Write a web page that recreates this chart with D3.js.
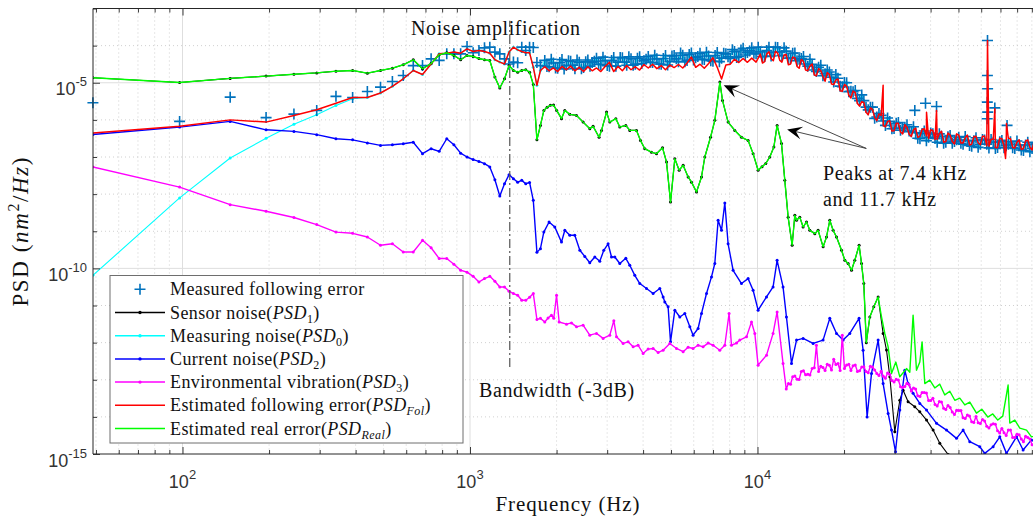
<!DOCTYPE html>
<html>
<head>
<meta charset="utf-8">
<script src="https://cdn.jsdelivr.net/npm/d3@7"></script>
<style>
  html, body { margin: 0; padding: 0; background: #fff; }
  svg { display: block; }
</style>
</head>
<body>
<svg id="chart" width="1033" height="519"></svg>
<script>
// ---------------------------------------------------------------
// PSD data (frequency in Hz, PSD in nm^2/Hz)
// ---------------------------------------------------------------

// FFT bins of the low band
const binFreq = [48.8, 97.7, 146.5, 195.3, 244.1, 293.0, 341.8, 390.6, 439.5, 488.3,
  537.1, 585.9, 634.8, 683.6, 732.4, 781.3, 830.1, 878.9, 927.7, 976.6,
  1025.4, 1074.2, 1123.0, 1171.9, 1220.7, 1269.5, 1318.4, 1367.2, 1416.0, 1464.8,
  1513.7, 1562.5, 1611.3, 1660.2, 1709.0, 1757.8];

// frequencies of the dense upper band
const bandFreq = [1820, 1884, 1950, 2018, 2089, 2163, 2239, 2317, 2399, 2483,
  2570, 2661, 2754, 2851, 2951, 3055, 3162, 3273, 3388, 3508,
  3631, 3758, 3890, 4027, 4169, 4315, 4467, 4624, 4786, 4955,
  5129, 5309, 5495, 5689, 5888, 6095, 6310, 6531, 6761, 6998,
  7244, 7499, 7762, 8035, 8318, 8610, 8913, 9226, 9550, 9886,
  10230, 10590, 10960, 11350, 11750, 12160, 12590, 13030, 13490, 13960,
  14450, 14960, 15490, 16030, 16600, 17180, 17780, 18410, 19050, 19720,
  20420, 21130, 21880, 22650, 23440, 24270, 25120, 26000, 26920, 27860,
  28840, 29850, 30900, 31990, 33110, 34280, 35480, 36730, 38020, 39360,
  40740, 42170, 43650, 45190, 46770, 48420, 50120, 51880, 53700, 55590,
  57540, 59570, 61660, 63830, 66070, 68390, 70790, 73280, 75860, 78520,
  81280, 84140, 87100, 90160, 93330, 96610, 100000];
// intermediate frequencies of the upper band
const bandMidFreq = [1852, 1917, 1984, 2053, 2125, 2201, 2278, 2357, 2441, 2526,
  2615, 2707, 2802, 2901, 3002, 3108, 3217, 3330, 3447, 3569,
  3694, 3823, 3958, 4097, 4242, 4390, 4545, 4704, 4869, 5041,
  5218, 5401, 5591, 5788, 5990, 6201, 6420, 6645, 6879, 7120,
  7370, 7630, 7897, 8175, 8463, 8760, 9068, 9387, 9716, 10058,
  10408, 10774, 11151, 11548, 11954, 12372, 12809, 13257, 13725, 14203,
  14701, 15220, 15760, 16309, 16889, 17479, 18089, 18730, 19381, 20063,
  20775, 21498, 22261, 23044, 23848, 24692, 25557, 26452, 27388, 28345,
  29342, 30369, 31438, 32547, 33686, 34876, 36097, 37369, 38682, 40045,
  41449, 42904, 44410, 45976, 47584, 49263, 50992, 52783, 54634, 56557,
  58541, 60607, 62733, 64941, 67220, 69580, 72022, 74555, 77180, 79886,
  82694, 85604, 88616, 91729, 94954, 98291];

// Measured following error (markers)
const measuredLow = [2.9e-6, 9.1e-7, 4.1e-6, 1.15e-6, 1.43e-6, 1.8e-6, 4.3e-6, 4.0e-6, 5.8e-6, 7.6e-6,
  1.08e-5, 1.57e-5, 2.9e-5, 2.9e-5, 4.4e-5, 4.0e-5, 6.0e-5, 6.0e-5, 6.0e-5, 9.5e-5,
  6.4e-5, 7.4e-5, 8.7e-5, 9.1e-5, 6.7e-5, 6.0e-5, 4.4e-5, 3.2e-5, 3.6e-5, 3.45e-5,
  9.1e-5, 7.4e-5, 9.1e-5, 8.9e-5, 3.5e-5, 2.9e-5];
const measuredBand = [4.0e-5, 2.7e-5, 3.4e-5, 2.45e-5, 4.2e-5, 2.9e-5, 3.8e-5, 2.4e-5, 3.55e-5, 2.57e-5,
  4.1e-5, 3.5e-5, 4.6e-5, 3.1e-5, 3.9e-5, 2.8e-5, 4.8e-5, 3.55e-5, 4.7e-5, 2.95e-5,
  4.4e-5, 3.16e-5, 5.0e-5, 3.9e-5, 5.1e-5, 3.5e-5, 4.4e-5, 3.16e-5, 5.4e-5, 3.7e-5,
  5.4e-5, 3.7e-5, 5.5e-5, 4.0e-5, 6.3e-5, 4.7e-5, 6.2e-5, 4.2e-5, 5.25e-5, 3.8e-5,
  6.5e-5, 4.6e-5, 6.0e-5, 4.5e-5, 6.9e-5, 5.1e-5, 8.5e-5, 6.5e-5, 8.7e-5, 6.0e-5,
  6.8e-5, 5.1e-5, 9.1e-5, 6.6e-5, 8.9e-5, 5.4e-5, 7.1e-5, 4.6e-5, 6.3e-5, 4.3e-5,
  5.1e-5, 2.8e-5, 3.16e-5, 2.0e-5, 2.95e-5, 1.74e-5, 1.95e-5, 1.05e-5, 1.32e-5, 7.8e-6,
  1.0e-5, 5.9e-6, 6.2e-6, 3.3e-6, 3.3e-6, 1.86e-6, 2.2e-6, 1.2e-6, 1.32e-6, 7.1e-7,
  9.1e-7, 5.9e-7, 8.5e-7, 5.9e-7, 7.4e-7, 4.8e-7, 4.5e-7, 3.1e-7, 5.0e-7, 3.4e-7,
  4.2e-7, 2.5e-7, 3.6e-7, 2.5e-7, 3.8e-7, 2.6e-7, 3.4e-7, 2.2e-7, 2.8e-7, 1.96e-7,
  3.3e-7, 2.2e-7, 2.85e-7, 1.76e-7, 2.5e-7, 1.8e-7, 2.8e-7, 2.0e-7, 2.56e-7, 1.7e-7,
  2.1e-7, 1.5e-7, 2.5e-7, 1.7e-7, 2.2e-7, 1.33e-7, 1.9e-7];
const measuredBandMid = [2.75e-5, 4.3e-5, 2.5e-5, 3.5e-5, 2.34e-5, 3.9e-5, 2.95e-5, 4.1e-5, 2.4e-5, 3.7e-5,
  2.8e-5, 3.8e-5, 3.16e-5, 4.9e-5, 2.9e-5, 4.0e-5, 2.8e-5, 4.8e-5, 3.6e-5, 5.0e-5,
  2.95e-5, 4.6e-5, 3.3e-5, 4.3e-5, 3.55e-5, 5.5e-5, 3.2e-5, 4.5e-5, 3.0e-5, 5.25e-5,
  4.4e-5, 6.3e-5, 3.7e-5, 5.75e-5, 4.1e-5, 5.1e-5, 4.3e-5, 6.6e-5, 3.9e-5, 5.4e-5,
  3.7e-5, 6.2e-5, 5.0e-5, 7.8e-5, 4.8e-5, 7.6e-5, 5.6e-5, 7.2e-5, 6.2e-5, 9.1e-5,
  5.1e-5, 7.4e-5, 5.25e-5, 9.1e-5, 6.8e-5, 8.7e-5, 4.6e-5, 6.2e-5, 3.9e-5, 4.5e-5,
  3.2e-5, 4.3e-5, 2.2e-5, 2.6e-5, 1.55e-5, 2.2e-5, 1.41e-5, 1.66e-5, 8.1e-6, 1.02e-5,
  5.75e-6, 5.75e-6, 3.8e-6, 4.7e-6, 2.2e-6, 2.2e-6, 1.1e-6, 1.48e-6, 9.3e-7, 1.12e-6,
  5.75e-7, 8.1e-7, 5.25e-7, 6.3e-7, 5.0e-7, 6.5e-7, 3.2e-7, 4.3e-7, 2.75e-7, 4.4e-7,
  3.16e-7, 4.2e-7, 2.34e-7, 3.5e-7, 2.34e-7, 2.9e-7, 2.34e-7, 3.55e-7, 2.04e-7, 2.75e-7,
  1.82e-7, 2.95e-7, 2.2e-7, 2.95e-7, 1.7e-7, 2.57e-7, 1.78e-7, 2.2e-7, 1.78e-7, 2.7e-7,
  1.55e-7, 2.1e-7, 1.38e-7, 2.24e-7, 1.66e-7, 2.24e-7];
const measuredSpikeFreq = [35250, 38400, 41950, 63100, 63050, 63150, 63000, 63200, 62950, 66900, 73800];
const measuredSpikePsd = [1.8e-6, 2.8e-6, 2.3e-6, 1.37e-4, 1.57e-5, 6.9e-6, 3.0e-6, 1.62e-6, 1.07e-6, 2.1e-6, 7.1e-7];

// Sensor noise (PSD1): shares the estimated real error up to 26.3 kHz
const sensorTailFreq = [27350, 28100, 28860, 30030, 31260, 32100, 33410, 35250, 36690, 38720, 40810, 43060, 46030, 48570];
const sensorTailPsd = [1.77e-12, 6.3e-13, 1.2e-13, 4.0e-15, 2.8e-14, 5.2e-14, 2.55e-14, 1.87e-14, 1.37e-14, 8.2e-15, 4.4e-15, 1.94e-15, 9.7e-16, 3.7e-16];
const sensorSplitFreq = 26275;

// Measuring noise (PSD0); above 1.8 kHz it coincides with the measured error
const measuringLow = [6.5e-11, 7.9e-9, 9.4e-8, 3.2e-7, 7.6e-7, 1.38e-6, 2.45e-6, 3.7e-6, 4.0e-6, 5.3e-6,
  8.0e-6, 1.28e-5, 2.14e-5, 1.67e-5, 3.2e-5, 6.0e-5, 6.25e-5, 6.7e-5, 6.25e-5, 8.2e-5,
  6.95e-5, 7.4e-5, 6.95e-5, 6.25e-5, 4.16e-5, 3.6e-5, 3.2e-5, 6.7e-5, 9.1e-5, 7.7e-5,
  6.95e-5, 6.4e-5, 6.4e-5, 2.63e-5, 8.5e-6, 2.14e-5];

// Current noise (PSD2)
const currentLow = [4.05e-7, 6.4e-7, 9.1e-7, 5.4e-7, 4.9e-7, 4.0e-7, 3.1e-7, 2.9e-7, 2.4e-7, 2.05e-7,
  2.14e-7, 2.28e-7, 2.5e-7, 1.23e-7, 1.67e-7, 1.42e-7, 3.1e-7, 2.14e-7, 1.27e-7, 1.0e-7,
  8.5e-8, 7.6e-8, 6.6e-8, 5.4e-8, 2.45e-8, 8.9e-9, 1.9e-8, 3.35e-8, 2.6e-8, 2.1e-8,
  2.35e-8, 1.9e-8, 2.07e-8, 6.8e-9, 2.7e-10, 3.4e-10];
const currentMidFreq = [1806, 1884, 1972, 2081, 2137, 2224, 2315, 2410, 2508, 2610,
  2717, 2828, 2920, 3022, 3106, 3189, 3319, 3483, 3596, 3743,
  3896, 4111, 4334, 4573, 4696, 4760, 4887, 4983, 5157, 5368,
  5588, 5817, 5970, 6214, 6386, 6647, 6918, 7104, 7295, 7496,
  7697, 7902, 8225, 8796, 9275, 9654, 10050, 10750, 11330, 11700,
  12270, 12610, 13130, 13670, 14410, 15610, 16910, 17840, 18830, 19850,
  20940, 22560, 23300, 24060, 24920, 26280, 27350, 28470, 29250, 30200,
  31260, 32530, 33410, 34770, 36690, 38720, 41950, 45440, 49230, 51900,
  54760, 59320, 61740, 65990, 69620, 73450, 79600, 83910, 89750, 95920];
const currentMidPsd = [9.5e-10, 1.78e-9, 1.3e-9, 5.1e-10, 1.06e-9, 7.8e-10, 7.8e-10, 3.07e-10, 2.1e-10, 1.42e-10,
  2.03e-10, 1.55e-10, 3.07e-10, 4.6e-10, 2.03e-10, 2.03e-10, 1.35e-10, 1.87e-10, 1.21e-10, 6.5e-11,
  3.9e-11, 2.86e-11, 2.1e-11, 2.86e-11, 1.7e-11, 1.25e-11, 9.2e-12, 1.05e-12, 7.5e-12, 4.9e-12,
  6.1e-12, 2.66e-12, 1.59e-12, 2.4e-12, 6.1e-12, 2.1e-11, 5.9e-11, 1.35e-10, 1.98e-9, 1.06e-9,
  5.8e-9, 4.6e-10, 8.9e-11, 3.9e-11, 5.3e-11, 2.58e-11, 7.5e-12, 1.7e-11, 3.16e-11, 1.65e-10,
  3.16e-11, 4.9e-12, 2.75e-13, 1.17e-12, 1.3e-12, 9.5e-13, 1.17e-12, 4.5e-12, 1.77e-12, 1.17e-12,
  1.77e-12, 4.5e-12, 6.25e-13, 1.0e-14, 1.48e-13, 1.17e-12, 7.9e-14, 1.24e-14, 4.4e-15, 1.15e-15,
  1.52e-14, 1.8e-13, 7.9e-14, 4.3e-14, 2.3e-14, 1.52e-14, 6.7e-15, 4.4e-15, 2.64e-15, 4.4e-15,
  2.14e-15, 1.57e-15, 1.04e-15, 1.57e-15, 2.9e-15, 1.04e-15, 2.9e-15, 1.28e-15, 2.4e-15, 1.75e-15];

// Environmental vibration (PSD3)
const envLow = [5.4e-8, 1.55e-8, 5.2e-9, 3.45e-9, 2.34e-9, 1.51e-9, 9.5e-10, 8.8e-10, 7.0e-10, 4.2e-10,
  4.6e-10, 2.76e-10, 2.76e-10, 5.7e-10, 3.6e-10, 1.84e-10, 1.84e-10, 1.29e-10, 8.9e-11, 7.9e-11,
  6.1e-11, 4.3e-11, 5.3e-11, 6.1e-11, 4.5e-11, 3.16e-11, 3.16e-11, 2.43e-11, 2.1e-11, 1.89e-11,
  1.39e-11, 1.39e-11, 1.67e-11, 2.1e-11, 4.2e-12, 4.5e-12];
const envMidFreq = [1820, 1869, 1920, 1956, 2000, 2042, 2166, 2254, 2347, 2474,
  2610, 2754, 2904, 3064, 3164, 3233, 3409, 3548, 3693, 3843,
  4001, 4164, 4334, 4511, 4696, 4955, 5228, 5512, 5737, 5970,
  6214, 6468, 6732, 7008, 7394, 7697, 7964, 8120, 8453, 8677,
  9157, 9530, 9786, 10050, 10750, 11330, 11700, 12270];
const envMidPsd = [3.6e-12, 4.6e-12, 5.5e-12, 4.5e-12, 1.89e-11, 3.6e-12, 3.15e-12, 3.4e-12, 2.66e-12, 2.96e-12,
  1.59e-12, 1.77e-12, 1.3e-12, 1.59e-12, 3.9e-12, 1.43e-12, 9.5e-13, 1.05e-12, 7.7e-13, 8.5e-13,
  5.1e-13, 6.7e-13, 6.95e-13, 5.4e-13, 6.25e-13, 9.5e-13, 6.95e-13, 5.7e-13, 7.5e-13, 6.95e-13,
  8.5e-13, 7.7e-13, 9.7e-13, 8.5e-13, 6.25e-13, 8.5e-13, 6.1e-12, 8.5e-13, 9.7e-13, 1.17e-12,
  1.43e-12, 3.6e-12, 1.77e-12, 2.47e-13, 4.6e-13, 1.77e-12, 6.7e-12, 2.75e-13];
// values on bandFreq / bandMidFreq from 12.59 kHz upward
const envBandStart = 56;
const envBandPsd = [5.6e-14, 7.6e-14, 1.26e-13, 1.02e-13, 1.74e-13, 1.41e-13, 2.0e-13, 8.5e-13, 2.3e-13, 1.78e-13,
  2.45e-13, 3.55e-13, 2.75e-13, 1.58e-12, 2.5e-13, 1.78e-13, 2.5e-13, 1.74e-13, 2.24e-13, 1.55e-13,
  2.2e-13, 1.48e-13, 1.7e-13, 1.1e-13, 1.41e-13, 8.7e-14, 9.8e-14, 6.2e-14, 8.1e-14, 5.0e-14,
  5.6e-14, 3.55e-14, 4.5e-14, 2.75e-14, 3.16e-14, 1.95e-14, 2.5e-14, 1.58e-14, 1.78e-14, 1.15e-14,
  1.48e-14, 9.5e-15, 1.12e-14, 7.4e-15, 1.02e-14, 6.6e-15, 7.8e-15, 5.0e-15, 6.5e-15, 4.2e-15,
  4.9e-15, 3.16e-15, 4.4e-15, 2.8e-15, 3.3e-15, 2.14e-15, 2.8e-15, 1.78e-15, 2.14e-15, 1.41e-15,
  1.95e-15];
const envBandMid = [7.9e-14, 1.2e-13, 1.03e-13, 1.68e-13, 1.36e-13, 1.35e-13, 2.1e-13, 1.66e-13, 2.14e-13, 2.63e-13,
  1.82e-13, 2.57e-13, 1.78e-13, 2.0e-13, 2.6e-13, 2.37e-13, 1.68e-13, 2.2e-13, 1.66e-13, 2.3e-13,
  1.84e-13, 1.3e-13, 1.24e-13, 1.53e-13, 9.5e-14, 1.03e-13, 6.5e-14, 6.6e-14, 7.3e-14, 6.0e-14,
  3.7e-14, 4.5e-14, 4.4e-14, 2.75e-14, 2.16e-14, 2.6e-14, 1.7e-14, 2.04e-14, 1.36e-14, 1.5e-14,
  1.48e-14, 9.0e-15, 1.05e-14, 7.1e-15, 7.0e-15, 8.5e-15, 5.6e-15, 6.1e-15, 6.3e-15, 3.7e-15,
  3.76e-15, 4.4e-15, 2.8e-15, 3.4e-15, 2.54e-15, 3.0e-15, 2.54e-15, 1.7e-15, 2.0e-15, 1.48e-15];

// Estimated following error (PSD_Fol)
const followingLow = [4.4e-7, 6.7e-7, 1.0e-6, 8.7e-7, 1.32e-6, 1.88e-6, 2.8e-6, 4.0e-6, 4.0e-6, 5.3e-6,
  8.0e-6, 1.28e-5, 2.14e-5, 1.67e-5, 3.2e-5, 6.0e-5, 6.25e-5, 6.7e-5, 6.25e-5, 8.2e-5,
  6.95e-5, 7.4e-5, 6.95e-5, 6.25e-5, 4.16e-5, 3.6e-5, 3.2e-5, 6.7e-5, 9.1e-5, 7.7e-5,
  6.95e-5, 6.4e-5, 6.4e-5, 2.63e-5, 8.5e-6, 2.14e-5];
const followingBand = [2.7e-5, 2.1e-5, 2.5e-5, 2.0e-5, 2.75e-5, 2.24e-5, 2.8e-5, 2.1e-5, 2.6e-5, 2.0e-5,
  2.7e-5, 2.1e-5, 2.5e-5, 2.0e-5, 2.75e-5, 3.55e-5, 2.0e-5, 2.75e-5, 2.1e-5, 2.9e-5,
  2.24e-5, 2.7e-5, 2.2e-5, 3.1e-5, 2.5e-5, 3.16e-5, 2.4e-5, 2.9e-5, 2.24e-5, 3.0e-5,
  2.57e-5, 3.1e-5, 2.5e-5, 3.4e-5, 4.9e-5, 2.6e-5, 3.16e-5, 2.45e-5, 3.3e-5, 4.7e-5,
  2.6e-5, 1.26e-5, 3.0e-5, 3.16e-5, 4.3e-5, 3.5e-5, 4.5e-5, 3.55e-5, 4.6e-5, 3.6e-5,
  5.9e-5, 3.7e-5, 6.8e-5, 3.9e-5, 6.3e-5, 3.6e-5, 5.75e-5, 3.2e-5, 4.7e-5, 2.45e-5,
  3.8e-5, 2.1e-5, 3.2e-5, 1.55e-5, 2.14e-5, 1.1e-5, 1.66e-5, 8.9e-6, 1.26e-5, 5.9e-6,
  8.1e-6, 3.9e-6, 5.4e-6, 2.35e-6, 2.95e-6, 1.38e-6, 1.91e-6, 9.5e-7, 1.32e-6, 6.5e-7,
  9.5e-7, 5.1e-7, 8.1e-7, 4.2e-7, 6.3e-7, 3.6e-7, 6.0e-7, 3.6e-7, 5.75e-7, 3.16e-7,
  5.1e-7, 2.95e-7, 4.9e-7, 2.6e-7, 3.9e-7, 2.24e-7, 3.9e-7, 2.4e-7, 3.9e-7, 2.2e-7,
  3.6e-7, 2.14e-7, 3.6e-7, 1.95e-7, 3.0e-7, 1.78e-7, 3.1e-7, 1.9e-7, 3.1e-7, 1.74e-7,
  2.9e-7, 1.7e-7, 2.9e-7, 1.55e-7, 2.4e-7, 1.41e-7, 2.45e-7];
// values on bandMidFreq from 10.4 kHz upward
const followingMidStart = 50;
const followingBandMid = [3.4e-5, 6.0e-5, 4.5e-5, 7.0e-5, 4.0e-5, 5.6e-5, 3.05e-5, 4.9e-5, 2.75e-5, 4.2e-5,
  2.2e-5, 2.8e-5, 1.62e-5, 2.4e-5, 1.46e-5, 1.88e-5, 9.2e-6, 1.19e-5, 6.1e-6, 9.0e-6,
  4.6e-6, 6.0e-6, 2.75e-6, 3.1e-6, 1.6e-6, 2.1e-6, 1.17e-6, 1.45e-6, 7.0e-7, 9.1e-7,
  5.0e-7, 8.1e-7, 4.7e-7, 7.4e-7, 4.1e-7, 5.4e-7, 3.4e-7, 5.5e-7, 3.7e-7, 5.4e-7,
  2.95e-7, 4.3e-7, 2.5e-7, 4.4e-7, 2.6e-7, 4.2e-7, 2.37e-7, 3.3e-7, 2.1e-7, 3.5e-7,
  2.43e-7, 3.6e-7, 2.0e-7, 3.0e-7, 1.8e-7, 3.2e-7, 1.97e-7, 3.2e-7, 1.8e-7, 2.5e-7,
  1.6e-7, 2.66e-7, 1.84e-7, 2.7e-7, 1.53e-7, 2.26e-7];
const followingSpikeFreq = [27350, 38720, 41950, 63100, 66900, 72900, 73450];
const followingSpikePsd = [8.5e-6, 1.6e-6, 1.8e-6, 1.37e-4, 2.0e-6, 9.1e-8, 8.0e-7];

// Estimated real error (PSD_Real)
const realLow = [1.36e-5, 1.02e-5, 1.31e-5, 1.51e-5, 1.70e-5, 1.84e-5, 2.05e-5, 2.14e-5, 1.81e-5, 2.14e-5,
  2.47e-5, 3.05e-5, 4.16e-5, 2.38e-5, 3.3e-5, 5.66e-5, 6.41e-5, 5.42e-5, 4.16e-5, 5.42e-5,
  5.10e-5, 4.5e-5, 4.16e-5, 3.98e-5, 1.42e-5, 7.2e-6, 1.28e-5, 2.9e-5, 2.14e-5, 1.93e-5,
  2.14e-5, 2.24e-5, 1.93e-5, 9.0e-6, 2.9e-7, 7.1e-7];
const realMidFreq = [1807, 1855, 1904, 1953, 2002, 2081, 2137, 2224, 2347, 2474,
  2610, 2680, 2812, 2867, 2985, 3064, 3215, 3319, 3483, 3596,
  3794, 3917, 4055, 4278, 4453, 4673, 4826, 4983, 5157, 5339,
  5512, 5737, 5895, 6135, 6386, 6557, 6864, 7105, 7400, 7555,
  7902, 8337, 8796, 9276, 9654, 10048, 10370, 10688, 11035, 11400,
  11700, 12121, 12445, 12780, 13196, 13483, 13670, 14031, 14407, 14805,
  15202, 15824, 16249, 16913, 17378, 17844, 18323, 18829, 19601, 20128,
  20665, 21232, 21798, 22565, 23002, 23428, 23900, 24587, 25383, 26275,
  26999, 27723, 28467, 29253, 30274, 31261, 32984, 33862, 34768, 35727,
  36686, 37367, 38185, 39747, 41370, 43060, 44818, 46650, 48560, 50540,
  52610, 54760, 57770, 60290, 63240, 65820, 68510, 71310, 74410, 75430,
  78520, 81730, 86250, 89750, 95920];
const realMidPsd = [1.8e-6, 2.2e-6, 2.46e-6, 2.5e-6, 1.8e-6, 1.08e-6, 1.8e-6, 1.41e-6, 1.32e-6, 8.7e-7,
  5.8e-7, 6.7e-7, 3.4e-7, 5.2e-7, 1.62e-6, 8.7e-7, 1.08e-6, 6.4e-7, 7.1e-7, 5.2e-7,
  5.2e-7, 2.8e-7, 1.67e-7, 1.35e-7, 1.23e-7, 1.78e-7, 7.3e-8, 6.1e-9, 9.0e-8, 4.4e-8,
  6.0e-8, 2.9e-8, 2.1e-8, 1.14e-8, 2.9e-8, 1.0e-7, 3.4e-7, 9.7e-7, 1.04e-5, 3.35e-6,
  8.7e-7, 5.2e-7, 3.4e-7, 2.8e-7, 1.23e-7, 4.4e-8, 5.5e-8, 6.7e-8, 1.0e-7, 1.85e-7,
  7.1e-7, 2.3e-7, 2.35e-8, 2.4e-9, 4.2e-10, 2.7e-9, 1.98e-9, 2.4e-9, 1.3e-9, 1.78e-9,
  1.06e-9, 8.6e-10, 1.06e-9, 3.8e-10, 7.0e-10, 1.98e-9, 1.06e-9, 7.0e-10, 3.07e-10, 1.65e-10,
  1.35e-10, 8.9e-11, 1.65e-10, 4.2e-10, 1.35e-10, 3.9e-11, 1.0e-12, 4.9e-12, 9.2e-12, 1.7e-11,
  4.9e-12, 1.77e-12, 7.7e-13, 1.48e-13, 3.0e-13, 1.2e-13, 2.0e-13, 1.6e-13, 5.5e-12, 1.8e-13,
  3.0e-13, 1.05e-12, 7.9e-14, 9.8e-14, 6.0e-14, 7.6e-14, 3.9e-14, 4.9e-14, 2.8e-14, 3.2e-14,
  2.1e-14, 2.5e-14, 1.26e-14, 1.6e-14, 9.9e-15, 1.2e-14, 8.2e-15, 1.05e-14, 7.2e-14, 6.8e-15,
  8.2e-15, 5.0e-15, 4.4e-15, 2.9e-15, 3.4e-15];

// Bandwidth (-3 dB) marker
const bandwidthFreq = 1375;
const bandwidthSpan = [2.2e-13, 4.7e-4];

// Axis ticks
const xMajorTicks = [100, 1000, 10000];
const xTickExponents = ['2', '3', '4'];
const yMajorTicks = [1e-15, 1e-10, 1e-5];
const yTickExponents = ['-15', '-10', '-5'];
const yDecadeExponents = [-15, -14, -13, -12, -11, -10, -9, -8, -7, -6, -5, -4, -3];

// Legend entries
const legendLabels = [
  { main: 'Measured following error' },
  { main: 'Sensor noise(', psd: '1', sub: 'plain' },
  { main: 'Measuring noise(', psd: '0', sub: 'plain' },
  { main: 'Current noise(', psd: '2', sub: 'plain' },
  { main: 'Environmental vibration(', psd: '3', sub: 'plain' },
  { main: 'Estimated following error(', psd: 'Fol', sub: 'ital' },
  { main: 'Estimated real error(', psd: 'Real', sub: 'ital' }
];

// ---------------------------------------------------------------
// Layout and scales
// ---------------------------------------------------------------
const plot = { left: 93, right: 1045, top: 8.5, bottom: 454 };
const x = d3.scaleLog().domain([48.83, 1e5]).range([plot.left, plot.right]);
const y = d3.scaleLog().domain([1e-15, 1e-3]).range([plot.bottom, plot.top]);

const SERIF = '"Liberation Serif", "Times New Roman", serif';
const SANS = '"Liberation Sans", Arial, sans-serif';
const AXIS_COLOR = '#262626';

const colors = {
  measured: '#0072BD',
  sensor: '#000000',
  measuring: '#00FFFF',
  current: '#0000FF',
  env: '#FF00FF',
  following: '#FF0000',
  real: '#00FF00'
};

const pair = (freqs, vals) => freqs.map((f, i) => ({ f, v: vals[i] }));
const byFreq = (a, b) => a.f - b.f;

const measuredUpper = pair(bandFreq, measuredBand).concat(pair(bandMidFreq, measuredBandMid)).sort(byFreq);
const measured = pair(binFreq, measuredLow)
  .concat(measuredUpper, pair(measuredSpikeFreq, measuredSpikePsd));
const real = pair(binFreq, realLow).concat(pair(realMidFreq, realMidPsd));
const sensor = real.filter(d => d.f <= sensorSplitFreq).concat(pair(sensorTailFreq, sensorTailPsd));
const measuring = pair(binFreq, measuringLow).concat(measuredUpper);
const current = pair(binFreq, currentLow).concat(pair(currentMidFreq, currentMidPsd));
const env = pair(binFreq, envLow).concat(pair(envMidFreq, envMidPsd),
  pair(bandFreq.slice(envBandStart), envBandPsd),
  pair(bandMidFreq.slice(envBandStart), envBandMid)).sort(byFreq);
const following = pair(binFreq, followingLow)
  .concat(pair(bandFreq, followingBand),
          pair(bandMidFreq.slice(followingMidStart), followingBandMid),
          pair(followingSpikeFreq, followingSpikePsd))
  .sort(byFreq);

const svg = d3.select('#chart');
svg.append('rect').attr('width', 1033).attr('height', 519).attr('fill', '#fff');

svg.append('defs').append('clipPath').attr('id', 'plotClip')
  .append('rect')
  .attr('x', plot.left).attr('y', plot.top)
  .attr('width', plot.right - plot.left).attr('height', plot.bottom - plot.top);

// ---------------------------------------------------------------
// Grid
// ---------------------------------------------------------------
const isDecade = v => { const l = Math.log10(v); return Math.abs(l - Math.round(l)) < 1e-9; };
const xMinorTicks = x.ticks().filter(t => !isDecade(t));
const yDecades = yDecadeExponents.map(e => Math.pow(10, e));
const yMinorTicks = yDecades.filter(v => !yMajorTicks.some(m => Math.abs(Math.log10(m) - Math.log10(v)) < 1e-9));

const grid = svg.append('g');
grid.selectAll('.gxm').data(xMinorTicks).join('line')
  .attr('x1', d => x(d)).attr('x2', d => x(d))
  .attr('y1', plot.top).attr('y2', plot.bottom)
  .attr('stroke', '#c4c4c4').attr('stroke-width', 0.8).attr('stroke-dasharray', '1,3');
grid.selectAll('.gym').data(yMinorTicks).join('line')
  .attr('y1', d => y(d)).attr('y2', d => y(d))
  .attr('x1', plot.left).attr('x2', plot.right)
  .attr('stroke', '#c4c4c4').attr('stroke-width', 0.8).attr('stroke-dasharray', '1,3');
grid.selectAll('.gxM').data(xMajorTicks).join('line')
  .attr('x1', d => x(d)).attr('x2', d => x(d))
  .attr('y1', plot.top).attr('y2', plot.bottom)
  .attr('stroke', '#dedede').attr('stroke-width', 1);
grid.selectAll('.gyM').data(yMajorTicks.slice(1)).join('line')
  .attr('y1', d => y(d)).attr('y2', d => y(d))
  .attr('x1', plot.left).attr('x2', plot.right)
  .attr('stroke', '#dedede').attr('stroke-width', 1);

// ---------------------------------------------------------------
// Data
// ---------------------------------------------------------------
const line = d3.line().x(d => x(d.f)).y(d => y(d.v));

function drawLineOn(g, series, color, width, withDots) {
  g.append('path').datum(series)
    .attr('d', line).attr('fill', 'none')
    .attr('stroke', color).attr('stroke-width', width)
    .attr('stroke-linejoin', 'round');
  if (withDots) {
    g.append('g').selectAll('circle').data(series).join('circle')
      .attr('cx', d => x(d.f)).attr('cy', d => y(d.v))
      .attr('r', 1.5).attr('fill', color);
  }
}

// measuring noise sits beneath the measured markers
const lower = svg.append('g').attr('clip-path', 'url(#plotClip)');
drawLineOn(lower, measuring, colors.measuring, 1.1, true);

// measured following error: '+' markers (drawn whole, like plot markers)
svg.append('g').selectAll('path').data(measured).join('path')
  .attr('d', 'M-5.5,0H5.5M0,-5.5V5.5')
  .attr('transform', d => `translate(${x(d.f)},${y(d.v)})`)
  .attr('stroke', colors.measured).attr('stroke-width', 1.6).attr('fill', 'none');

const upper = svg.append('g').attr('clip-path', 'url(#plotClip)');
drawLineOn(upper, sensor, colors.sensor, 1.1, true);
drawLineOn(upper, current, colors.current, 1.4, true);
drawLineOn(upper, env, colors.env, 1.4, true);
drawLineOn(upper, following, colors.following, 1.5, false);
drawLineOn(upper, real, colors.real, 1.4, false);

// bandwidth marker
svg.append('line')
  .attr('x1', x(bandwidthFreq)).attr('x2', x(bandwidthFreq))
  .attr('y1', y(bandwidthSpan[0])).attr('y2', y(bandwidthSpan[1]))
  .attr('stroke', '#555').attr('stroke-width', 1.2)
  .attr('stroke-dasharray', '9,3,2,3');

// ---------------------------------------------------------------
// Axes (ticks point inward)
// ---------------------------------------------------------------
const axes = svg.append('g');
function tickAxis(gen, values, size, transform) {
  const g = axes.append('g').attr('transform', transform)
    .call(gen.tickValues(values).tickSizeInner(-size).tickSizeOuter(0).tickFormat(''));
  g.select('.domain').remove();
  g.selectAll('line').attr('stroke', AXIS_COLOR).attr('stroke-width', 0.9);
}
tickAxis(d3.axisBottom(x), xMajorTicks, 7, `translate(0,${plot.bottom})`);
tickAxis(d3.axisBottom(x), xMinorTicks, 4, `translate(0,${plot.bottom})`);
tickAxis(d3.axisTop(x), xMajorTicks, 7, `translate(0,${plot.top})`);
tickAxis(d3.axisTop(x), xMinorTicks, 4, `translate(0,${plot.top})`);
tickAxis(d3.axisLeft(y), yMajorTicks, 7, `translate(${plot.left},0)`);
tickAxis(d3.axisLeft(y), yMinorTicks, 4, `translate(${plot.left},0)`);

axes.append('line').attr('x1', plot.left).attr('x2', plot.left)
  .attr('y1', plot.top).attr('y2', plot.bottom).attr('stroke', AXIS_COLOR).attr('stroke-width', 1);
axes.append('line').attr('x1', plot.left).attr('x2', plot.right)
  .attr('y1', plot.bottom).attr('y2', plot.bottom).attr('stroke', AXIS_COLOR).attr('stroke-width', 1);
axes.append('line').attr('x1', plot.left).attr('x2', plot.right)
  .attr('y1', plot.top).attr('y2', plot.top).attr('stroke', AXIS_COLOR).attr('stroke-width', 1);

// tick labels with superscript exponents
xMajorTicks.forEach((t, i) => {
  const txt = axes.append('text')
    .attr('x', x(t)).attr('y', plot.bottom + 34)
    .attr('text-anchor', 'middle')
    .attr('font-family', SANS).attr('font-size', 18).attr('fill', '#333');
  txt.append('tspan').text('10');
  txt.append('tspan').attr('dy', -9).attr('font-size', 13).text(xTickExponents[i]);
});
yMajorTicks.forEach((t, i) => {
  const txt = axes.append('text')
    .attr('x', plot.left - 6).attr('y', y(t) + 12.5)
    .attr('text-anchor', 'end')
    .attr('font-family', SANS).attr('font-size', 18).attr('fill', '#333');
  txt.append('tspan').text('10');
  txt.append('tspan').attr('dy', -9).attr('font-size', 13).text(yTickExponents[i]);
});

// axis titles
svg.append('text')
  .attr('x', 568).attr('y', 511).attr('text-anchor', 'middle')
  .attr('font-family', SERIF).attr('font-size', 21).attr('letter-spacing', 0.9)
  .attr('fill', '#111').text('Frequency (Hz)');

const yTitle = svg.append('text')
  .attr('transform', `translate(28,${(plot.top + plot.bottom) / 2}) rotate(-90)`)
  .attr('text-anchor', 'middle')
  .attr('font-family', SERIF).attr('font-size', 23).attr('letter-spacing', 1.6)
  .attr('fill', '#111');
yTitle.append('tspan').text('PSD (');
yTitle.append('tspan').attr('font-style', 'italic').text('nm');
yTitle.append('tspan').attr('dy', -9).attr('font-size', 16).text('2');
yTitle.append('tspan').attr('dy', 9).text('/');
yTitle.append('tspan').attr('font-style', 'italic').text('Hz');
yTitle.append('tspan').text(')');

// ---------------------------------------------------------------
// Annotations
// ---------------------------------------------------------------
const note = (tx, ty, s) => svg.append('text')
  .attr('x', tx).attr('y', ty)
  .attr('font-family', SERIF).attr('font-size', 20).attr('letter-spacing', 0.6)
  .attr('fill', '#111').text(s);
note(411, 35, 'Noise amplification');
note(479, 397, 'Bandwidth (-3dB)');
note(823, 180, 'Peaks at 7.4 kHz');
note(823, 206, 'and 11.7 kHz');

const arrowTail = [23900, 1.7e-7];
const arrowTips = [[7630, 8.5e-6], [12680, 5.5e-7]];
arrowTips.forEach(tip => {
  const x0 = x(arrowTail[0]), y0 = y(arrowTail[1]);
  const x1 = x(tip[0]), y1 = y(tip[1]);
  const len = Math.hypot(x1 - x0, y1 - y0);
  const ux = (x1 - x0) / len, uy = (y1 - y0) / len;
  const px = -uy, py = ux;
  const L = 15, Wd = 6.5, notch = 9;
  svg.append('line')
    .attr('x1', x0).attr('y1', y0)
    .attr('x2', x1 - ux * notch).attr('y2', y1 - uy * notch)
    .attr('stroke', '#333').attr('stroke-width', 0.9);
  const pts = [
    [x1, y1],
    [x1 - ux * L + px * Wd, y1 - uy * L + py * Wd],
    [x1 - ux * notch, y1 - uy * notch],
    [x1 - ux * L - px * Wd, y1 - uy * L - py * Wd]
  ];
  svg.append('path').attr('d', 'M' + pts.map(p => p.join(',')).join('L') + 'Z')
    .attr('fill', '#000');
});

// ---------------------------------------------------------------
// Legend
// ---------------------------------------------------------------
const legend = svg.append('g');
legend.append('rect')
  .attr('x', 110).attr('y', 275.5).attr('width', 353).attr('height', 167.5)
  .attr('fill', '#fff').attr('stroke', '#6e6e6e').attr('stroke-width', 1);

const legendColors = [colors.measured, colors.sensor, colors.measuring, colors.current,
  colors.env, colors.following, colors.real];
legendLabels.forEach((item, i) => {
  const cy = 289.3 + i * 23.2;
  if (i === 0) {
    legend.append('path').attr('d', 'M-5.5,0H5.5M0,-5.5V5.5')
      .attr('transform', `translate(140,${cy})`)
      .attr('stroke', legendColors[i]).attr('stroke-width', 1.6);
  } else {
    legend.append('line').attr('x1', 115).attr('x2', 165).attr('y1', cy).attr('y2', cy)
      .attr('stroke', legendColors[i]).attr('stroke-width', 1.5);
    if (i <= 4) {
      legend.append('circle').attr('cx', 140).attr('cy', cy).attr('r', 1.7)
        .attr('fill', legendColors[i]);
    }
  }
  const t = legend.append('text')
    .attr('x', 170).attr('y', cy + 6)
    .attr('font-family', SERIF).attr('font-size', 18).attr('letter-spacing', 0.4)
    .attr('fill', '#111');
  t.append('tspan').text(item.main);
  if (item.psd) {
    t.append('tspan').attr('font-style', 'italic').text('PSD');
    t.append('tspan').attr('dy', 4).attr('font-size', 12)
      .attr('font-style', item.sub === 'ital' ? 'italic' : 'normal').text(item.psd);
    t.append('tspan').attr('dy', -4).text(')');
  }
});
</script>
</body>
</html>
